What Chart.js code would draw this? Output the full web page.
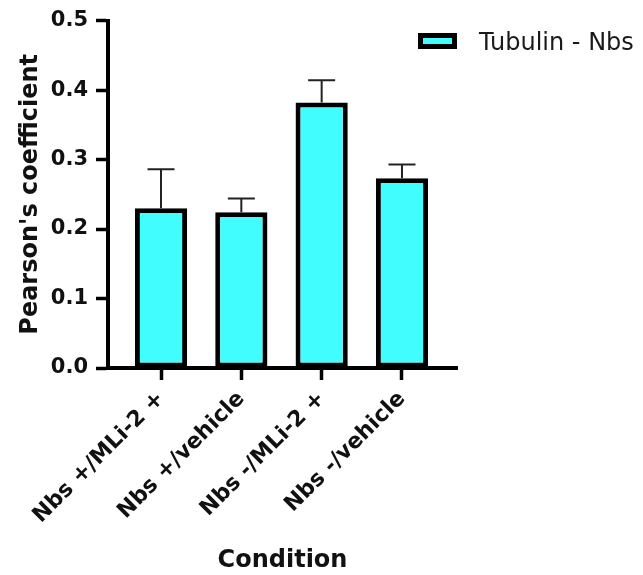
<!DOCTYPE html>
<html>
<head>
<meta charset="utf-8">
<script src="https://cdn.jsdelivr.net/npm/chart.js@4"></script>
<style>
  body { margin: 0; background: #fff; }
  #wrap { width: 643px; height: 575px; }
</style>
</head>
<body>
<div id="wrap"><canvas id="chart" width="643" height="575"></canvas></div>
<script>
const categories = ['Nbs +/MLi-2 +', 'Nbs +/vehicle', 'Nbs -/MLi-2 +', 'Nbs -/vehicle'];
const means = [0.230, 0.224, 0.382, 0.273];
const errors = [0.056, 0.020, 0.032, 0.020];
const yTicks = [0.0, 0.1, 0.2, 0.3, 0.4, 0.5];
const seriesLabel = 'Tubulin - Nbs';

const FONT = "'DejaVu Sans', sans-serif";

// error whiskers (upper only, like the original)
const errorBars = {
  id: 'errorBars',
  afterDatasetsDraw(chart) {
    const ctx = chart.ctx;
    const y = chart.scales.y;
    const meta = chart.getDatasetMeta(0);
    ctx.save();
    ctx.strokeStyle = '#222';
    ctx.lineWidth = 2;
    meta.data.forEach((bar, i) => {
      const top = y.getPixelForValue(means[i] + errors[i]);
      ctx.beginPath();
      ctx.moveTo(bar.x, bar.y);
      ctx.lineTo(bar.x, top);
      ctx.moveTo(bar.x - 13.5, top);
      ctx.lineTo(bar.x + 13.5, top);
      ctx.stroke();
    });
    ctx.restore();
  }
};

// legend drawn outside to the right, overlapping the plot's top right
const sideLegend = {
  id: 'sideLegend',
  afterDraw(chart) {
    const ctx = chart.ctx;
    const ds = chart.data.datasets[0];
    ctx.save();
    ctx.fillStyle = ds.backgroundColor;
    ctx.fillRect(420.5, 35.5, 34, 11);
    ctx.strokeStyle = '#000';
    ctx.lineWidth = 5;
    ctx.strokeRect(420.5, 35.5, 34, 11);
    ctx.fillStyle = '#1a1a1a';
    ctx.font = '24px ' + FONT;
    ctx.textBaseline = 'alphabetic';
    ctx.fillText(ds.label, 479, 50);
    ctx.restore();
  }
};

new Chart(document.getElementById('chart'), {
  type: 'bar',
  data: {
    datasets: [{
      label: seriesLabel,
      data: categories.map((c, i) => ({ x: i, y: means[i] })),
      backgroundColor: '#41fdfe',
      borderColor: '#000',
      borderWidth: 5,
      borderSkipped: false,
      categoryPercentage: 0.65,
      barPercentage: 1
    }]
  },
  options: {
    responsive: false,
    animation: false,
    layout: { padding: { left: 12, right: 186, top: 20, bottom: 0 } },
    plugins: {
      legend: { display: false },
      tooltip: { enabled: false }
    },
    scales: {
      x: {
        type: 'linear',
        offset: false,
        min: -0.66,
        max: 3.685,
        afterBuildTicks(scale) {
          scale.ticks = categories.map((c, i) => ({ value: i }));
        },
        afterFit(scale) {
          scale.height = 207;
          scale.paddingLeft = 0;
          scale.paddingRight = 0;
        },
        ticks: {
          autoSkip: false,
          minRotation: 45,
          maxRotation: 45,
          padding: 6,
          color: '#111',
          font: { family: FONT, size: 22, weight: 'bold' },
          callback: (v) => categories[v]
        },
        grid: { offset: false, drawOnChartArea: false, drawTicks: true, tickLength: 12, tickWidth: 3.5, color: '#000' },
        border: { display: true, color: '#000', width: 4 },
        title: {
          display: true,
          text: 'Condition',
          color: '#111',
          padding: { top: 4, bottom: 0 },
          font: { family: FONT, size: 24, weight: 'bold' }
        }
      },
      y: {
        min: 0,
        max: 0.5,
        afterBuildTicks(scale) {
          scale.ticks = yTicks.map(v => ({ value: v }));
        },
        afterFit(scale) {
          scale.width = 96;
        },
        ticks: {
          padding: 8,
          color: '#111',
          font: { family: FONT, size: 21, weight: 'bold' },
          callback: (v) => v.toFixed(1)
        },
        grid: { drawOnChartArea: false, drawTicks: true, tickLength: 12, tickWidth: 3.5, color: '#000' },
        border: { display: true, color: '#000', width: 4 },
        title: {
          display: true,
          text: "Pearson's coefficient",
          color: '#111',
          font: { family: FONT, size: 24, weight: 'bold' }
        }
      }
    }
  },
  plugins: [errorBars, sideLegend]
});
</script>
</body>
</html>
